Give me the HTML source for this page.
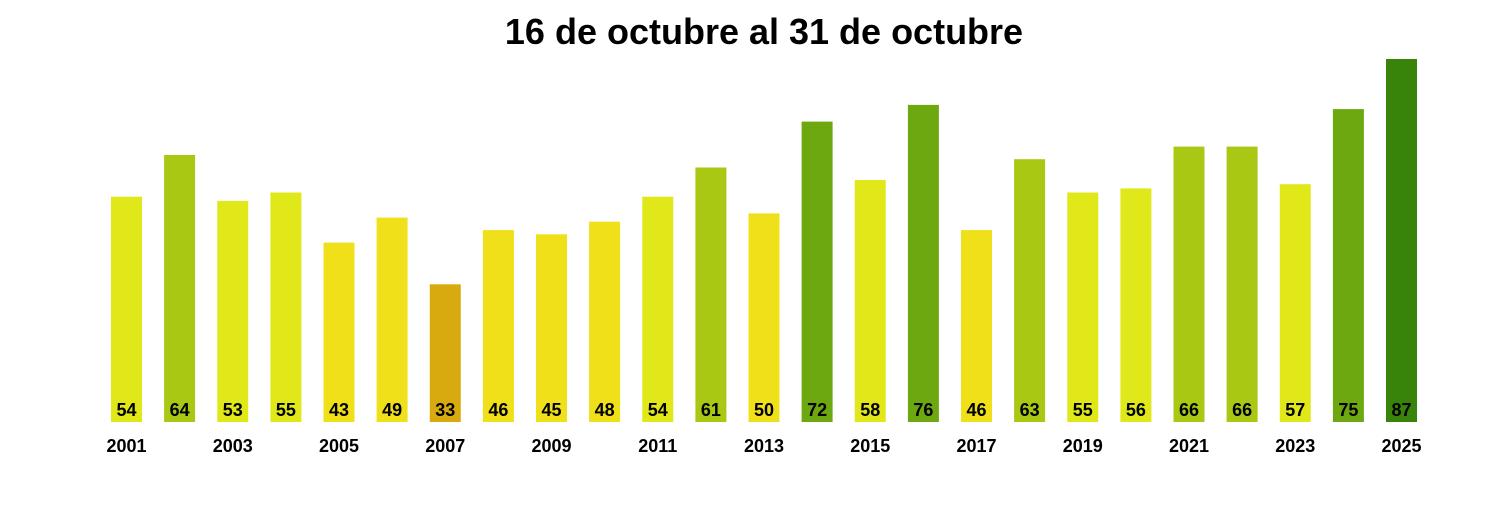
<!DOCTYPE html>
<html><head><meta charset="utf-8"><style>
body{margin:0;background:#fff;}
</style></head><body>
<svg width="1500" height="500" xmlns="http://www.w3.org/2000/svg" font-family="Liberation Sans, sans-serif" font-weight="bold">
<rect width="1500" height="500" fill="#fff"/>
<text x="764" y="44" font-size="36" text-anchor="middle">16 de octubre al 31 de octubre</text>
<g>
<rect x="111" y="196.7" width="31" height="225.3" fill="#e0e81a"/>
<rect x="164.1" y="155" width="31" height="267" fill="#a8c814"/>
<rect x="217.25" y="200.9" width="31" height="221.1" fill="#e0e81a"/>
<rect x="270.4" y="192.5" width="31" height="229.5" fill="#e0e81a"/>
<rect x="323.5" y="242.6" width="31" height="179.4" fill="#f0e01a"/>
<rect x="376.6" y="217.6" width="31" height="204.4" fill="#f0e01a"/>
<rect x="429.75" y="284.3" width="31" height="137.7" fill="#d8aa10"/>
<rect x="482.9" y="230.1" width="31" height="191.9" fill="#f0e01a"/>
<rect x="536" y="234.3" width="31" height="187.7" fill="#f0e01a"/>
<rect x="589.1" y="221.7" width="31" height="200.3" fill="#f0e01a"/>
<rect x="642.25" y="196.7" width="31" height="225.3" fill="#e0e81a"/>
<rect x="695.4" y="167.5" width="31" height="254.5" fill="#a8c814"/>
<rect x="748.5" y="213.4" width="31" height="208.6" fill="#f0e01a"/>
<rect x="801.6" y="121.6" width="31" height="300.4" fill="#6ea810"/>
<rect x="854.75" y="180" width="31" height="242" fill="#e0e81a"/>
<rect x="907.9" y="104.9" width="31" height="317.1" fill="#6ea810"/>
<rect x="961" y="230.1" width="31" height="191.9" fill="#f0e01a"/>
<rect x="1014.1" y="159.2" width="31" height="262.8" fill="#a8c814"/>
<rect x="1067.25" y="192.5" width="31" height="229.5" fill="#e0e81a"/>
<rect x="1120.4" y="188.4" width="31" height="233.6" fill="#e0e81a"/>
<rect x="1173.5" y="146.6" width="31" height="275.4" fill="#a8c814"/>
<rect x="1226.6" y="146.6" width="31" height="275.4" fill="#a8c814"/>
<rect x="1279.75" y="184.2" width="31" height="237.8" fill="#e0e81a"/>
<rect x="1332.9" y="109.1" width="31" height="312.9" fill="#6ea810"/>
<rect x="1386" y="59" width="31" height="363" fill="#38840a"/>
</g>
<g font-size="18" text-anchor="middle">
<text x="126.5" y="416">54</text><text x="179.6" y="416">64</text><text x="232.75" y="416">53</text><text x="285.9" y="416">55</text><text x="339" y="416">43</text><text x="392.1" y="416">49</text><text x="445.25" y="416">33</text><text x="498.4" y="416">46</text><text x="551.5" y="416">45</text><text x="604.6" y="416">48</text><text x="657.75" y="416">54</text><text x="710.9" y="416">61</text><text x="764" y="416">50</text><text x="817.1" y="416">72</text><text x="870.25" y="416">58</text><text x="923.4" y="416">76</text><text x="976.5" y="416">46</text><text x="1029.6" y="416">63</text><text x="1082.75" y="416">55</text><text x="1135.9" y="416">56</text><text x="1189" y="416">66</text><text x="1242.1" y="416">66</text><text x="1295.25" y="416">57</text><text x="1348.4" y="416">75</text><text x="1401.5" y="416">87</text>
</g>
<g font-size="18" text-anchor="middle">
<text x="126.5" y="452">2001</text><text x="232.75" y="452">2003</text><text x="339" y="452">2005</text><text x="445.25" y="452">2007</text><text x="551.5" y="452">2009</text><text x="657.75" y="452">2011</text><text x="764" y="452">2013</text><text x="870.25" y="452">2015</text><text x="976.5" y="452">2017</text><text x="1082.75" y="452">2019</text><text x="1189" y="452">2021</text><text x="1295.25" y="452">2023</text><text x="1401.5" y="452">2025</text>
</g>
</svg>
</body></html>
